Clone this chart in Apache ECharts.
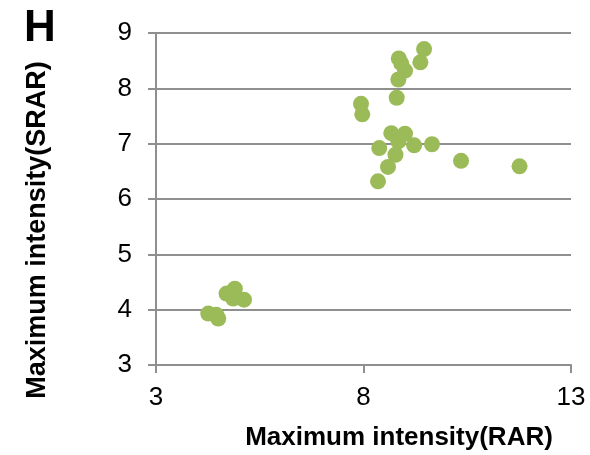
<!DOCTYPE html>
<html>
<head>
<meta charset="utf-8">
<script src="https://cdn.jsdelivr.net/npm/echarts@6/dist/echarts.min.js"></script>
<style>html,body{margin:0;padding:0;background:#fff}#c{width:590px;height:455px}</style>
</head>
<body>
<div id="c"></div>
<script>
// Maximum intensity (RAR) vs Maximum intensity (SRAR)
const rarValues = [9.46, 9.37, 8.85, 8.91, 9.00, 8.84, 8.80, 7.94, 7.97, 8.67, 9.00, 8.84, 8.38, 9.22, 9.65, 8.77, 8.59, 8.35, 10.35, 11.76,
                   4.26, 4.45, 4.50, 4.70, 4.90, 4.86, 5.12];
const srarValues = [8.71, 8.47, 8.54, 8.45, 8.32, 8.16, 7.83, 7.72, 7.53, 7.19, 7.18, 7.04, 6.92, 6.97, 6.99, 6.80, 6.58, 6.32, 6.69, 6.59,
                    3.93, 3.91, 3.84, 4.29, 4.38, 4.20, 4.18];
const xTicks = [3, 8, 13];
const yTicks = [3, 4, 5, 6, 7, 8, 9];
const panelLabel = 'H';
const xTitle = 'Maximum intensity(RAR)';
const yTitle = 'Maximum intensity(SRAR)';

const points = rarValues.map((x, i) => [x, srarValues[i]]);
const font = '"Liberation Sans", Arial, sans-serif';
const lineColor = '#8f8f8f';

const chart = echarts.init(document.getElementById('c'), null, {renderer: 'canvas'});
chart.setOption({
  animation: false,
  backgroundColor: '#ffffff',
  grid: {left: 156, right: 19, top: 33, bottom: 90, containLabel: false},
  xAxis: {
    type: 'value', min: xTicks[0], max: xTicks[xTicks.length - 1], interval: xTicks[1] - xTicks[0],
    axisLine: {show: true, onZero: false, lineStyle: {color: lineColor, width: 2}},
    axisTick: {show: true, length: 8, lineStyle: {color: lineColor, width: 2}},
    splitLine: {show: false},
    axisLabel: {color: '#000', fontFamily: font, fontSize: 26, margin: 20}
  },
  yAxis: {
    type: 'value', min: yTicks[0], max: yTicks[yTicks.length - 1], interval: 1,
    axisLine: {show: true, onZero: false, lineStyle: {color: lineColor, width: 2}},
    axisTick: {show: true, length: 8, lineStyle: {color: lineColor, width: 2}},
    splitLine: {show: true, lineStyle: {color: lineColor, width: 2}},
    axisLabel: {color: '#000', fontFamily: font, fontSize: 26, margin: 24}
  },
  series: [{
    type: 'scatter',
    data: points,
    symbol: 'circle',
    symbolSize: 16,
    itemStyle: {color: '#9bbb59', opacity: 1},
    z: 5
  }],
  graphic: [
    {type: 'text', left: 24, top: 7, style: {text: panelLabel, font: 'bold 44px ' + font, fill: '#000'}},
    {type: 'text', x: 399, y: 438, style: {text: xTitle, font: 'bold 26px ' + font, fill: '#000', align: 'center', verticalAlign: 'middle'}},
    {type: 'text', x: 38, y: 230, rotation: Math.PI / 2, style: {text: yTitle, font: 'bold 27px ' + font, fill: '#000', align: 'center', verticalAlign: 'middle'}}
  ]
});
</script>
</body>
</html>
